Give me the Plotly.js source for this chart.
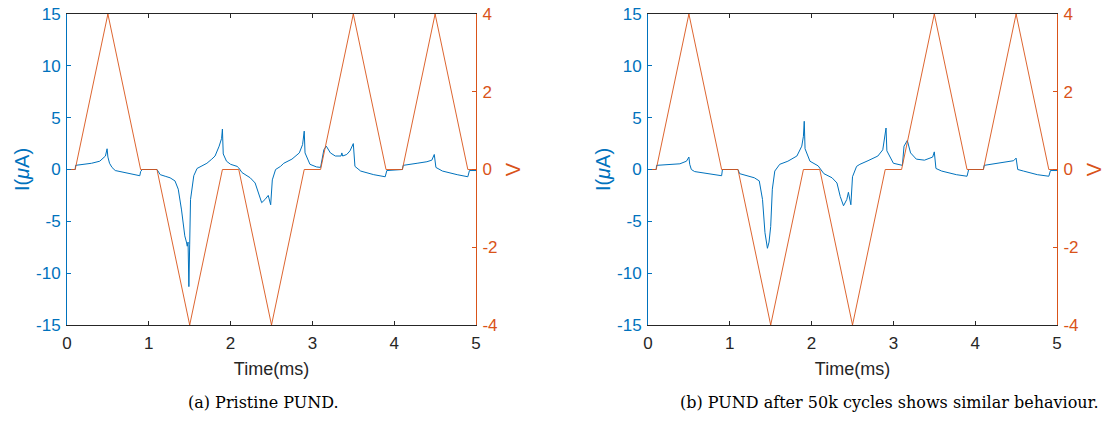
<!DOCTYPE html>
<html>
<head>
<meta charset="utf-8">
<script src="https://cdn.plot.ly/plotly-3.0.1.min.js"></script>
<style>html,body{margin:0;padding:0;background:#fff;}#chart{width:1107px;height:424px;}</style>
</head>
<body>
<div id="chart"></div>
<script>
// Voltage waveform (same for both panels), time in ms, volts
const tV = [0, 0.1, 0.5, 0.9, 1.1, 1.5, 1.9, 2.1, 2.5, 2.9, 3.1, 3.5, 3.9, 4.1, 4.5, 4.9, 5.0];
const vV = [0, 0, 4, 0, 0, -4, 0, 0, -4, 0, 0, 4, 0, 0, 4, 0, 0];

// (a) Pristine PUND current, µA
const tA = [0, 0.1, 0.105, 0.2, 0.3, 0.4, 0.45, 0.47, 0.49, 0.50, 0.52, 0.55, 0.59, 0.7, 0.8, 0.89, 0.9, 0.92, 1.1,
  1.14, 1.2, 1.26, 1.32, 1.36, 1.40, 1.44, 1.46, 1.47, 1.48, 1.49, 1.50, 1.51, 1.55, 1.59, 1.65, 1.71, 1.77, 1.81, 1.86, 1.89, 1.90, 1.91, 1.95, 2.0, 2.08, 2.1,
  2.14, 2.2, 2.24, 2.30, 2.34, 2.38, 2.42, 2.46, 2.49, 2.51, 2.55, 2.61, 2.65, 2.75, 2.84, 2.88, 2.90, 2.91, 2.97, 3.05, 3.10,
  3.14, 3.17, 3.22, 3.28, 3.35, 3.36, 3.37, 3.42, 3.46, 3.50, 3.52, 3.59, 3.75, 3.89, 3.91, 4.1,
  4.11, 4.28, 4.40, 4.46, 4.49, 4.51, 4.59, 4.77, 4.90, 4.92, 5.0];
const iA = [0, 0, 0.4, 0.5, 0.6, 0.8, 1.1, 1.3, 2.0, 1.2, 0.6, 0.2, -0.1, -0.3, -0.45, -0.6, -0.2, 0.0, 0.0,
  -0.5, -0.65, -0.8, -1.1, -1.9, -3.9, -6.4, -7.0, -7.4, -7.0, -11.3, -7.2, -2.9, -0.6, 0.1, 0.35, 0.6, 1.0, 1.3, 2.25, 3.0, 3.9, 1.5, 0.8, 0.5, 0.3, 0.15,
  -0.3, -0.6, -0.8, -1.3, -2.25, -3.2, -2.9, -2.5, -3.4, -1.0, 0.0, 0.3, 0.6, 1.0, 1.6, 2.4, 3.7, 1.6, 0.5, 0.25, 0.2,
  1.9, 2.25, 1.6, 1.3, 1.3, 1.6, 1.3, 1.45, 1.8, 2.5, 0.3, -0.15, -0.5, -0.7, -0.1, 0.0,
  0.4, 0.6, 0.75, 0.9, 1.45, 0.2, -0.15, -0.5, -0.7, -0.1, -0.1];

// (b) PUND after 50k cycles current, µA
const tB = [0, 0.1, 0.105, 0.2, 0.3, 0.39, 0.47, 0.50, 0.51, 0.53, 0.57, 0.72, 0.90, 0.91, 1.1,
  1.12, 1.20, 1.30, 1.36, 1.40, 1.43, 1.46, 1.48, 1.49, 1.50, 1.52, 1.55, 1.61, 1.71, 1.82, 1.88, 1.90, 1.91, 1.92, 1.98, 2.08, 2.1,
  2.15, 2.25, 2.31, 2.35, 2.39, 2.43, 2.45, 2.48, 2.50, 2.55, 2.59, 2.69, 2.81, 2.87, 2.91, 2.92, 3.0, 3.11,
  3.13, 3.17, 3.21, 3.28, 3.38, 3.48, 3.50, 3.52, 3.59, 3.77, 3.90, 3.92, 4.1,
  4.11, 4.30, 4.47, 4.50, 4.52, 4.59, 4.76, 4.90, 4.92, 5.0];
const iB = [0, 0, 0.4, 0.45, 0.5, 0.55, 0.8, 1.2, 0.5, 0.0, -0.2, -0.4, -0.6, 0.0, 0.0,
  -0.4, -0.6, -0.8, -1.1, -2.9, -6.1, -7.6, -7.0, -6.2, -5.5, -1.9, -0.15, 0.5, 0.8, 1.3, 2.25, 3.2, 4.65, 2.0, 0.8, 0.35, 0.15,
  -0.4, -0.8, -1.3, -2.6, -3.5, -2.9, -2.2, -3.4, -0.7, 0.3, 0.5, 0.85, 1.3, 1.9, 4.0, 1.8, 0.6, 0.4,
  2.25, 2.8, 1.6, 1.0, 0.9, 1.2, 1.7, 0.1, -0.15, -0.5, -0.65, 0.0, 0.0,
  0.4, 0.6, 0.85, 1.1, 0.0, -0.15, -0.5, -0.65, -0.1, -0.1];

const xTicks = [0, 1, 2, 3, 4, 5];
const xTickText = ['0', '1', '2', '3', '4', '5'];
const iTicks = [-15, -10, -5, 0, 5, 10, 15];
const iTickText = ['-15', '-10', '-5', '0', '5', '10', '15'];
const vTicks = [-4, -2, 0, 2, 4];
const vTickText = ['-4', '-2', '0', '2', '4'];
const captions = ['(a) Pristine PUND.', '(b) PUND after 50k cycles shows similar behaviour.'];

const BLUE = '#0072BD', ORANGE = '#D95319', DARK = '#262626';
const FONT = 'Liberation Sans, Arial, Helvetica, sans-serif';
const SERIF = 'DejaVu Serif, Liberation Serif, serif';

const traces = [
  {x: tA, y: iA, xaxis: 'x', yaxis: 'y', type: 'scatter', mode: 'lines', line: {color: BLUE, width: 1}},
  {x: tV, y: vV, xaxis: 'x', yaxis: 'y2', type: 'scatter', mode: 'lines', line: {color: ORANGE, width: 0.9}},
  {x: tB, y: iB, xaxis: 'x2', yaxis: 'y3', type: 'scatter', mode: 'lines', line: {color: BLUE, width: 1}},
  {x: tV, y: vV, xaxis: 'x2', yaxis: 'y4', type: 'scatter', mode: 'lines', line: {color: ORANGE, width: 0.9}}
];

const yDom = [1 - 325/424, 1 - 14/424];
function xAx(dom, anchor) {
  return {domain: dom, anchor: anchor, range: [0, 5], tickvals: xTicks, ticktext: xTickText, ticks: 'inside', ticklen: 4,
    tickcolor: DARK, showline: true, linecolor: DARK, linewidth: 1, mirror: 'ticks',
    showgrid: false, zeroline: false, automargin: false, ticklabelstandoff: 3,
    tickfont: {family: FONT, size: 17, color: DARK},
    title: {text: 'Time(ms)', font: {family: FONT, size: 18, color: DARK}, standoff: 9}};
}
function iAx(anchor) {
  return {domain: yDom, anchor: anchor, range: [-15, 15], tickvals: iTicks, ticktext: iTickText, ticks: 'inside', ticklen: 4,
    tickcolor: BLUE, showline: true, linecolor: BLUE, linewidth: 1, showgrid: false, zeroline: false, automargin: false,
    ticklabelstandoff: 2,
    tickfont: {family: FONT, size: 17, color: BLUE},
    title: {text: 'I(<i>μ</i>A)', font: {family: FONT, size: 20, color: BLUE}, standoff: 1}};
}
function vAx(over, anchor) {
  return {overlaying: over, side: 'right', anchor: anchor, range: [-4, 4], tickvals: vTicks, ticktext: vTickText, ticks: 'inside', ticklen: 4,
    tickcolor: ORANGE, showline: true, linecolor: ORANGE, linewidth: 1, showgrid: false, zeroline: false, automargin: false,
    ticklabelstandoff: 2,
    tickfont: {family: FONT, size: 17, color: ORANGE},
    title: {text: 'V', font: {family: FONT, size: 20, color: ORANGE}, standoff: 9}};
}

const layout = {
  width: 1107, height: 424, margin: {l: 0, r: 0, t: 0, b: 0},
  paper_bgcolor: '#fff', plot_bgcolor: '#fff', showlegend: false,
  xaxis: xAx([67/1107, 476/1107], 'y'),
  yaxis: iAx('x'),
  yaxis2: vAx('y', 'x'),
  xaxis2: xAx([648/1107, 1057/1107], 'y3'),
  yaxis3: iAx('x2'),
  yaxis4: vAx('y3', 'x2'),
  annotations: [
    {text: captions[0], xref: 'paper', yref: 'paper', x: 263/1107, y: 1 - 402/424, xanchor: 'center', yanchor: 'middle',
     showarrow: false, font: {family: SERIF, size: 16, color: '#000'}},
    {text: captions[1], xref: 'paper', yref: 'paper', x: 889/1107, y: 1 - 402/424, xanchor: 'center', yanchor: 'middle',
     showarrow: false, font: {family: SERIF, size: 16, color: '#000'}}
  ]
};

Plotly.newPlot('chart', traces, layout, {staticPlot: true, displayModeBar: false});
</script>
</body>
</html>
